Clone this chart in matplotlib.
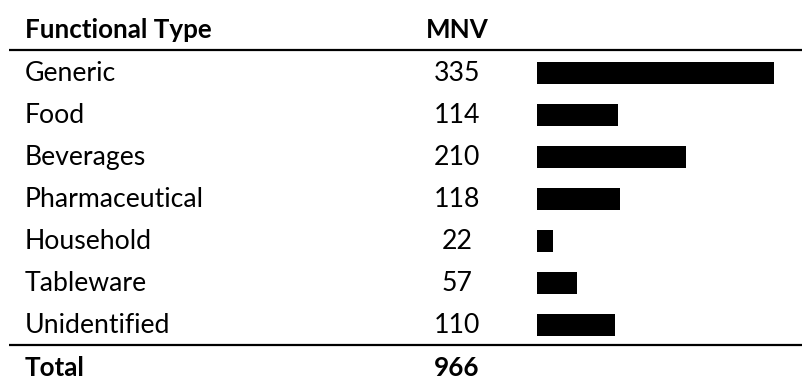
import matplotlib.pyplot as plt

# table data
types = ['Generic', 'Food', 'Beverages', 'Pharmaceutical', 'Household', 'Tableware', 'Unidentified']
mnv = [335, 114, 210, 118, 22, 57, 110]
total = 966

W, H = 803, 379
fig = plt.figure(figsize=(W / 100, H / 100), dpi=100)
plt.rcParams['font.family'] = ['Lato', 'DejaVu Sans']

# row i sits at pixel y = 73 + 42*i
y_top = -73 / 42
y_bot = (H - 73) / 42

# text axes: x in pixels, y in row units
ax = fig.add_axes([0, 0, 1, 1])
ax.set_xlim(0, W)
ax.set_ylim(y_bot, y_top)
ax.axis('off')

fs = 19.2
xl, xc = 25, 457
ax.text(xl, -1.02, 'Functional Type', fontsize=fs - 0.5, fontweight='bold', va='center')
ax.text(xc, -1.02, 'MNV', fontsize=fs - 0.5, fontweight='bold', va='center', ha='center')
for i, (t, v) in enumerate(zip(types, mnv)):
    ax.text(xl, i + 0.02, t, fontsize=fs, va='center')
    ax.text(xc, i + 0.02, str(v), fontsize=fs, va='center', ha='center')
n = len(types)
ax.text(xl, n + 0.03, 'Total', fontsize=fs - 0.5, fontweight='bold', va='center')
ax.text(xc, n + 0.03, str(total), fontsize=fs - 0.5, fontweight='bold', va='center', ha='center')

ax.plot([9, W], [-0.55, -0.55], color='black', lw=1.6, solid_capstyle='butt')
ax.plot([9, W], [n - 0.525, n - 0.525], color='black', lw=1.6, solid_capstyle='butt')

# bar axes
left = 537
bx = fig.add_axes([left / W, 0, (W - left) / W, 1])
bx.set_xlim(0, (W - left) / (237 / 335))
bx.set_ylim(y_bot, y_top)
bx.axis('off')
bx.barh(range(n), mnv, height=22 / 42, color='black', left=0)

fig.savefig('out.png', dpi=100)
